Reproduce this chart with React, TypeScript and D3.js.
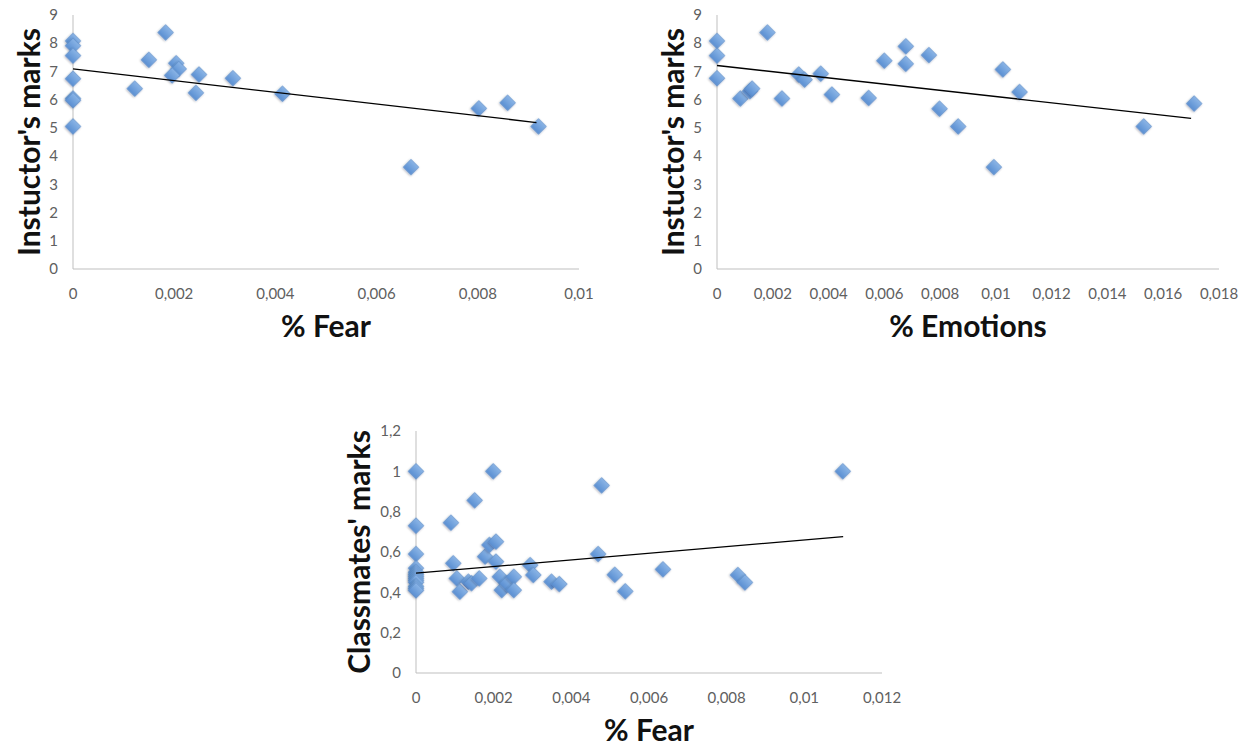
import React from "react";
import * as d3 from "d3";

// chart 1: instructor's marks vs % fear
const fearX1 = [0, 0, 0, 0, 0, 0, 0, 0.00183, 0.0015, 0.00122, 0.00204, 0.00209, 0.00196, 0.00249, 0.00243, 0.00316, 0.00414, 0.00668, 0.00802, 0.00859, 0.0092];
const marksY1 = [8.08, 7.91, 7.56, 6.74, 6.04, 5.98, 5.05, 8.38, 7.41, 6.39, 7.29, 7.09, 6.86, 6.89, 6.24, 6.76, 6.21, 3.61, 5.69, 5.89, 5.05];
const trend1 = [0, 7.09, 0.00916, 5.19];

// chart 2: instructor's marks vs % emotions
const emoX2 = [0, 0, 0, 0.00181, 0.00084, 0.00118, 0.00126, 0.00233, 0.00293, 0.00314, 0.00372, 0.00412, 0.00544, 0.006, 0.00677, 0.00677, 0.0076, 0.00798, 0.00865, 0.00993, 0.01025, 0.01085, 0.0153, 0.01711];
const marksY2 = [8.08, 7.56, 6.76, 8.38, 6.04, 6.3, 6.39, 6.04, 6.89, 6.71, 6.92, 6.18, 6.06, 7.38, 7.89, 7.27, 7.58, 5.68, 5.05, 3.61, 7.07, 6.27, 5.05, 5.86];
const trend2 = [0, 7.21, 0.017, 5.34];

// chart 3: classmates' marks vs % fear
const fearX3 = [0, 0, 0, 0, 0, 0, 0, 0, 0, 0, 0, 0, 0, 0.00199, 0.00478, 0.00151, 0.0009, 0.01099, 0.00096, 0.00105, 0.00113, 0.00135, 0.00143, 0.00163, 0.00178, 0.00189, 0.00206, 0.00206, 0.00216, 0.00221, 0.00235, 0.00252, 0.00252, 0.00294, 0.00302, 0.00349, 0.00369, 0.00469, 0.00512, 0.00539, 0.00636, 0.00829, 0.00847];
const classY3 = [1.0, 0.73, 0.59, 0.52, 0.5, 0.49, 0.48, 0.47, 0.46, 0.45, 0.43, 0.42, 0.41, 1.0, 0.93, 0.856, 0.745, 1.0, 0.544, 0.469, 0.403, 0.453, 0.445, 0.469, 0.577, 0.635, 0.651, 0.552, 0.477, 0.411, 0.445, 0.477, 0.411, 0.535, 0.486, 0.453, 0.441, 0.59, 0.487, 0.405, 0.514, 0.486, 0.449];
const trend3 = [0, 0.495, 0.011, 0.676];

const xTicks1 = [0, 0.002, 0.004, 0.006, 0.008, 0.01];
const xTicks2 = [0, 0.002, 0.004, 0.006, 0.008, 0.01, 0.012, 0.014, 0.016, 0.018];
const xTicks3 = [0, 0.002, 0.004, 0.006, 0.008, 0.01, 0.012];
const yTicksMarks = [0, 1, 2, 3, 4, 5, 6, 7, 8, 9];
const yTicksClass = [0, 0.2, 0.4, 0.6, 0.8, 1, 1.2];

const fmt = d3.formatLocale({ decimal: ",", thousands: ".", grouping: [3], currency: ["", ""] }).format("~g");

const FONT = "Lato, 'Open Sans', sans-serif";
const diamond = d3.symbol().type(d3.symbolSquare).size(122)()!;

type ScatterProps = {
  xs: number[];
  ys: number[];
  trend: number[];
  xTicks: number[];
  yTicks: number[];
  xRange: [number, number];
  yRange: [number, number];
  xTitle: string;
  yTitle: string;
  yTitleGap: number;
};

function Scatter({ xs, ys, trend, xTicks, yTicks, xRange, yRange, xTitle, yTitle, yTitleGap }: ScatterProps) {
  const x = d3.scaleLinear().domain([0, xTicks[xTicks.length - 1]]).range(xRange);
  const y = d3.scaleLinear().domain([0, yTicks[yTicks.length - 1]]).range(yRange);
  const line = d3.line<[number, number]>().x((d) => x(d[0])).y((d) => y(d[1]));
  const x0 = xRange[0];
  const yb = yRange[0];
  return (
    <g>
      <line x1={x0} x2={x0} y1={y.range()[1]} y2={yb} stroke="#bfbfbf" />
      <line x1={x0} x2={xRange[1]} y1={yb} y2={yb} stroke="#bfbfbf" />
      {yTicks.map((t) => (
        <text key={t} x={x0 - 15} y={y(t)} dy="0.35em" textAnchor="end" fontSize={15} fill="#606060" fontFamily={FONT}>
          {fmt(t)}
        </text>
      ))}
      {xTicks.map((t) => (
        <text key={t} x={x(t)} y={yb + 25} dy="0.35em" textAnchor="middle" fontSize={15} fill="#606060" fontFamily={FONT}>
          {fmt(t)}
        </text>
      ))}
      {xs.map((v, i) => (
        <path key={i} d={diamond} transform={`translate(${x(v)},${y(ys[i])}) rotate(45)`} fill="url(#dia)" stroke="#5b8cc8" strokeWidth={0.6} filter="url(#shadow)" />
      ))}
      <path d={line([[trend[0], trend[1]], [trend[2], trend[3]]])!} stroke="#000" strokeWidth={1.3} fill="none" />
      <text x={(xRange[0] + xRange[1]) / 2} y={yb + 68} textAnchor="middle" fontSize={30} fontWeight={700} fill="#111" fontFamily={FONT}>
        {xTitle}
      </text>
      <text
        transform={`translate(${x0 - yTitleGap},${(yRange[0] + yRange[1]) / 2}) rotate(-90)`}
        dy="0.35em"
        textAnchor="middle"
        fontSize={30}
        fontWeight={700}
        fill="#111"
        fontFamily={FONT}
      >
        {yTitle}
      </text>
    </g>
  );
}

export default function App() {
  return (
    <svg width={1247} height={749} style={{ position: "absolute", left: 0, top: 0, background: "#fff" }}>
      <defs>
        <linearGradient id="dia" x1="0" y1="0" x2="0" y2="1">
          <stop offset="0" stopColor="#8ab4e6" />
          <stop offset="1" stopColor="#5a8fd2" />
        </linearGradient>
        <filter id="shadow" x="-50%" y="-50%" width="200%" height="200%">
          <feDropShadow dx="0" dy="1" stdDeviation="1.2" floodColor="#000" floodOpacity="0.3" />
        </filter>
      </defs>
      <Scatter xs={fearX1} ys={marksY1} trend={trend1} xTicks={xTicks1} yTicks={yTicksMarks} xRange={[73, 579]} yRange={[269, 15]} xTitle="% Fear" yTitle="Instuctor's marks" yTitleGap={44} />
      <Scatter xs={emoX2} ys={marksY2} trend={trend2} xTicks={xTicks2} yTicks={yTicksMarks} xRange={[717, 1219]} yRange={[269, 15]} xTitle="% Emotions" yTitle="Instuctor's marks" yTitleGap={44} />
      <Scatter xs={fearX3} ys={classY3} trend={trend3} xTicks={xTicks3} yTicks={yTicksClass} xRange={[416, 882]} yRange={[673, 431]} xTitle="% Fear" yTitle="Classmates' marks" yTitleGap={57} />
    </svg>
  );
}
